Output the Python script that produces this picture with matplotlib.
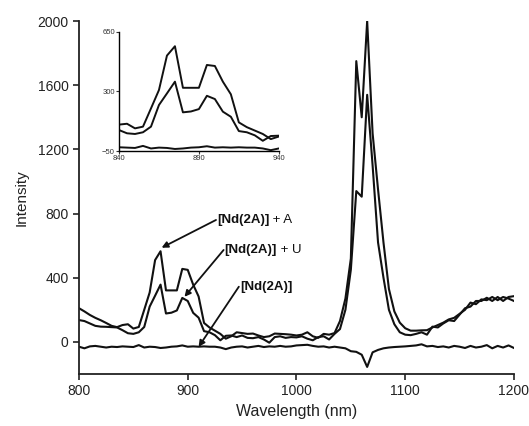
import numpy as np
import matplotlib
matplotlib.use('Agg')
from matplotlib import pyplot as plt

plt.rcParams['font.family'] = ['Liberation Sans', 'DejaVu Sans']

# wavelength grid (nm), 5 nm step
wl = np.arange(800, 1205, 5)

# [Nd(2A)] + A
int_a = [210, 190, 168, 150, 135, 118, 100, 92, 105, 110,
         83, 93, 200, 308, 510, 565, 321, 321, 321, 455,
         449, 357, 283, 118, 90, 70, 50, 20, 35, 60,
         55, 50, 52, 40, 30, 35, 52, 50, 48, 45,
         40, 45, 60, 35, 25, 50, 45, 55, 130, 270,
         520, 1750, 1400, 2000, 1300, 950, 620, 330, 190, 120,
         85, 70, 70, 72, 73, 90, 105, 120, 140, 150,
         175, 200, 245, 235, 265, 260, 280, 260, 280, 270,
         255]

# [Nd(2A)] + U
int_u = [136, 130, 115, 100, 95, 94, 92, 90, 73, 54,
         50, 60, 93, 220, 288, 357, 177, 182, 196, 274,
         255, 181, 151, 67, 60, 42, 10, 38, 40, 30,
         40, 25, 23, 30, 15, -5, 30, 35, 25, 30,
         28, 35, 20, 10, 30, 35, 15, 50, 80, 200,
         450, 940, 905, 1540, 1100, 620, 400, 200, 110, 60,
         45, 42, 50, 60, 45, 95, 90, 115, 135, 130,
         170, 210, 220, 255, 255, 275, 255, 280, 255, 280,
         285]

# [Nd(2A)]
int_0 = [-30, -40, -28, -25, -30, -35, -30, -32, -28, -30,
         -32, -20, -35, -30, -32, -38, -35, -30, -28, -22,
         -30, -28, -30, -28, -30, -30, -35, -45, -35, -30,
         -28, -35, -30, -25, -32, -28, -30, -25, -30, -28,
         -22, -20, -18, -25, -30, -28, -35, -30, -35, -40,
         -58, -62, -80, -156, -65, -50, -40, -35, -32, -30,
         -28, -25, -22, -15, -28, -25, -32, -28, -35, -25,
         -30, -38, -25, -35, -30, -20, -40, -25, -35, -22,
         -38]

col = '#111111'
fig = plt.figure(figsize=(5.29, 4.26), dpi=100)
ax = fig.add_axes([0.1493, 0.1221, 0.8223, 0.8286])
for s in (int_a, int_u, int_0):
    ax.plot(wl, s, color=col, lw=1.5)
ax.set_xlim(800, 1200)
ax.set_ylim(-200, 2000)
ax.set_xticks([800, 900, 1000, 1100, 1200])
ax.set_yticks([0, 400, 800, 1200, 1600, 2000])
ax.spines['top'].set_visible(False)
ax.spines['right'].set_visible(False)
for sp in ('left', 'bottom'):
    ax.spines[sp].set_linewidth(1.3)
    ax.spines[sp].set_color('#222222')
ax.tick_params(direction='out', length=4, width=1.2, labelsize=10, colors='#222222')
ax.set_xlabel('Wavelength (nm)', fontsize=11.5, color='#222222', labelpad=4)
ax.set_ylabel('Intensity', fontsize=11, color='#222222', labelpad=6)

# annotations
arr = dict(arrowstyle='-|>', color=col, lw=1.3, mutation_scale=9, shrinkA=0, shrinkB=0)
labels = [('[Nd(2A)]', ' + A', (926, 760), (876, 587)),
          ('[Nd(2A)]', ' + U', (933, 573), (897, 281)),
          ('[Nd(2A)]', '', (947, 344), (910, -31))]
for bold, rest, xyt, xy in labels:
    ax.annotate('', xy=xy, xytext=xyt, arrowprops=arr)
    t = ax.text(xyt[0] + 1, xyt[1], bold, fontsize=9.5, fontweight='bold',
                va='center', ha='left', color=col)
    if rest:
        ax.annotate(rest, xycoords=t, xy=(1, 0.5), va='center', ha='left',
                    fontsize=9.5, color=col)

# inset
ins = fig.add_axes([0.225, 0.6455, 0.302, 0.28])
for s in (int_a, int_u, int_0):
    ins.plot(wl, s, color=col, lw=1.4)
ins.set_xlim(840, 940)
ins.set_ylim(-50, 650)
ins.set_xticks([840, 890, 940])
ins.set_yticks([-50, 300, 650])
ins.spines['top'].set_visible(False)
ins.spines['right'].set_visible(False)
for sp in ('left', 'bottom'):
    ins.spines[sp].set_linewidth(1.0)
ins.tick_params(direction='out', length=2, width=0.8, labelsize=5.5, pad=1, colors='#333333')
ins.patch.set_alpha(0)

fig.savefig('out.png', dpi=100)
